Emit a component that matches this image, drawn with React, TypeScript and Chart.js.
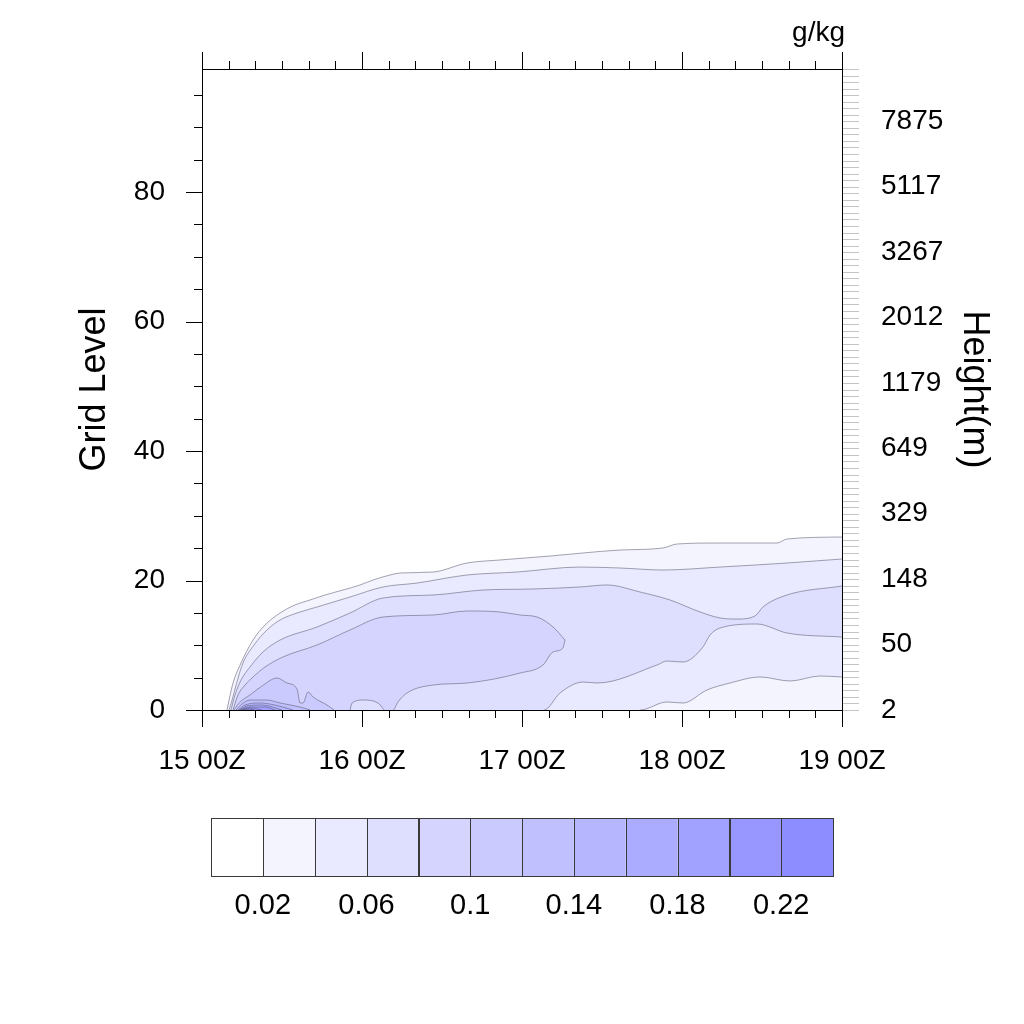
import React, { useEffect, useRef } from 'react';
import { Chart, registerables } from 'chart.js';

Chart.register(...registerables);

const FONT = '"Liberation Sans", Arial, Helvetica, sans-serif';

// Axis labels
const xTickLabels = ['15 00Z', '16 00Z', '17 00Z', '18 00Z', '19 00Z'];
const heightTickLabels = ['2', '50', '148', '329', '649', '1179', '2012', '3267', '5117', '7875'];
const unitsLabel = 'g/kg';
const leftTitle = 'Grid Level';
const rightTitle = 'Height(m)';

// Contour levels and fill colours (12 intervals)
const contourLevels = [0.02, 0.04, 0.06, 0.08, 0.1, 0.12, 0.14, 0.16, 0.18, 0.2, 0.22];
const fillColors = [
  '#FFFFFF', '#F4F4FF', '#E9E9FF', '#DEDEFF', '#D4D4FF', '#CACAFF',
  '#C0C0FF', '#B6B6FF', '#ABABFF', '#A1A1FF', '#9797FF', '#8D8DFF',
];

// Contour boundaries: [hours after 15 00Z, grid level]
const c002Top = [
  [0.156, 0], [0.169, 1.54], [0.194, 4.17], [0.238, 6.95], [0.319, 10.81], [0.394, 13.13],
  [0.488, 14.98], [0.581, 16.22], [0.675, 16.99], [0.769, 17.76], [0.881, 18.53], [0.988, 19.31],
  [1.069, 20.08], [1.175, 20.85], [1.238, 21.16], [1.444, 21.31], [1.656, 22.7], [1.863, 23.17],
  [2.175, 23.78], [2.381, 24.25], [2.613, 24.71], [2.881, 25.02], [2.969, 25.64], [3.238, 25.79],
  [3.594, 25.79], [3.656, 26.41], [4.0, 26.72],
];
const c004Top = [
  [0.169, 0], [0.188, 1.54], [0.213, 3.86], [0.256, 7.26], [0.325, 10.04], [0.406, 12.36],
  [0.488, 13.9], [0.594, 14.98], [0.719, 15.91], [0.925, 17.45], [1.131, 19.0], [1.344, 19.61],
  [1.656, 20.85], [1.969, 21.31], [2.363, 22.08], [2.613, 21.93], [2.881, 21.62], [3.238, 22.08],
  [3.656, 22.7], [4.0, 23.32],
];
const c004Bottom = [
  [0.169, 0], [2.738, 0], [2.906, 1.24], [3.006, 1.08], [3.156, 3.09], [3.3, 4.17],
  [3.488, 5.1], [3.675, 4.48], [3.863, 5.25], [4.0, 5.1],
];
const c006Top = [
  [0.181, 0], [0.206, 2.32], [0.244, 4.63], [0.3, 6.64], [0.381, 8.96], [0.488, 10.81],
  [0.719, 12.82], [0.925, 14.98], [1.131, 17.3], [1.444, 17.76], [1.756, 18.53], [2.069, 18.69],
  [2.363, 19.0], [2.531, 19.31], [2.738, 18.22], [2.925, 16.99], [3.113, 15.14], [3.238, 14.21],
  [3.344, 14.05], [3.456, 14.52], [3.506, 15.91], [3.656, 17.76], [4.0, 19.15],
];
const c006Bottom = [
  [0.181, 0], [2.138, 0], [2.238, 2.63], [2.381, 4.32], [2.469, 4.17], [2.844, 6.95],
  [2.906, 7.57], [3.006, 7.41], [3.131, 9.73], [3.175, 11.58], [3.238, 12.66], [3.469, 13.28],
  [3.656, 11.89], [4.0, 11.27],
];
const c008Top = [
  [0.194, 0], [0.225, 2.32], [0.269, 3.86], [0.319, 5.1], [0.394, 6.64], [0.506, 8.19],
  [0.719, 10.04], [0.925, 12.36], [1.131, 14.36], [1.444, 14.67], [1.656, 15.29], [1.863, 15.14],
  [1.988, 14.67], [2.094, 14.36], [2.194, 12.82], [2.269, 10.81],
];
const c008Bottom = [
  [0.194, 0], [1.194, 0], [1.225, 1.24], [1.281, 2.63], [1.444, 3.86], [1.656, 4.17],
  [1.988, 5.71], [2.131, 6.95], [2.194, 8.96], [2.256, 9.58], [2.269, 10.81],
];
const c006Dip = [[0.925, 0], [0.938, 1.08], [1.006, 1.54], [1.1, 1.08], [1.138, 0]];
const c010Top = [
  [0.2, 0], [0.238, 1.24], [0.3, 2.32], [0.375, 3.71], [0.469, 4.94], [0.531, 4.17],
  [0.594, 3.24], [0.613, 1.08], [0.631, 1.08], [0.663, 2.78], [0.694, 2.01], [0.781, 0.77], [0.825, 0],
];
const c012Top = [[0.213, 0], [0.25, 0.93], [0.3, 1.54], [0.406, 1.54], [0.488, 1.08], [0.613, 0.46], [0.675, 0]];
const c014Top = [[0.225, 0], [0.269, 0.77], [0.363, 1.08], [0.456, 0.77], [0.569, 0]];
const c016Top = [[0.231, 0], [0.281, 0.62], [0.375, 0.77], [0.5, 0]];
const c018Top = [[0.238, 0], [0.3, 0.46], [0.394, 0.46], [0.456, 0]];
const c020Top = [[0.244, 0], [0.3, 0.31], [0.375, 0]];
const c022Top = [[0.25, 0], [0.288, 0.15], [0.325, 0]];

const LINE = 'rgba(90,90,110,0.55)';

function contourDs(arr: number[][], fill: any, colorIdx: number | null) {
  return {
    data: arr.map(([x, y]) => ({ x, y })),
    borderColor: LINE,
    borderWidth: 1,
    backgroundColor: colorIdx === null ? 'transparent' : fillColors[colorIdx],
    fill,
    pointRadius: 0,
    cubicInterpolationMode: 'monotone',
    segment: {
      borderColor: (c: any) =>
        arr[c.p0DataIndex] && arr[c.p1DataIndex] && arr[c.p0DataIndex][1] === 0 && arr[c.p1DataIndex][1] === 0
          ? 'transparent'
          : LINE,
    },
  };
}

const decorPlugin = {
  id: 'decor',
  afterDraw(chart: any) {
    const { ctx, chartArea: a, scales } = chart;
    const sx = scales.x;
    const sy = scales.y;
    const sy2 = scales.y2;
    const line = (x1: number, y1: number, x2: number, y2: number) => {
      ctx.beginPath();
      ctx.moveTo(x1, y1);
      ctx.lineTo(x2, y2);
      ctx.stroke();
    };
    ctx.save();
    ctx.lineWidth = 1;
    // right-hand height ticks (every model level)
    ctx.strokeStyle = '#c4c4c4';
    for (let v = 0; v <= 98; v++) {
      const y = Math.round(sy2.getPixelForValue(v)) + 0.5;
      line(a.right, y, a.right + 17, y);
    }
    // time ticks, top and bottom
    ctx.strokeStyle = '#000';
    for (let i = 0; i <= 24; i++) {
      const x = Math.round(sx.getPixelForValue(i / 6)) + 0.5;
      const len = i % 6 === 0 ? 17 : 8;
      line(x, a.bottom, x, a.bottom + len);
      line(x, a.top, x, a.top - len);
    }
    // grid level ticks
    for (let v = 0; v <= 95; v += 5) {
      const y = Math.round(sy.getPixelForValue(v)) + 0.5;
      const len = v % 20 === 0 ? 16 : 8;
      line(a.left - len, y, a.left, y);
    }
    // frame
    ctx.strokeRect(Math.round(a.left) + 0.5, Math.round(a.top) + 0.5, Math.round(a.right - a.left), Math.round(a.bottom - a.top));

    // units
    ctx.fillStyle = '#000';
    ctx.font = `28px ${FONT}`;
    ctx.textAlign = 'right';
    ctx.textBaseline = 'alphabetic';
    ctx.fillText(unitsLabel, 845, 41);

    // colour bar
    const cbLeft = 211, cbRight = 833, cbTop = 818, cbBottom = 876;
    const w = (cbRight - cbLeft) / fillColors.length;
    fillColors.forEach((c, i) => {
      ctx.fillStyle = c;
      ctx.fillRect(cbLeft + i * w, cbTop, w, cbBottom - cbTop);
    });
    ctx.strokeStyle = '#3a3a3a';
    fillColors.forEach((_, i) => {
      ctx.strokeRect(Math.round(cbLeft + i * w) + 0.5, cbTop + 0.5, Math.round(w), cbBottom - cbTop);
    });
    ctx.fillStyle = '#000';
    ctx.font = `29px ${FONT}`;
    ctx.textAlign = 'center';
    ctx.textBaseline = 'middle';
    contourLevels.forEach((lv, i) => {
      if (i % 2 === 0) ctx.fillText(String(lv), cbLeft + (i + 1) * w, 906);
    });
    ctx.restore();
  },
};

export default function App() {
  const ref = useRef<HTMLCanvasElement>(null);
  useEffect(() => {
    const datasets: any[] = [
      contourDs(c022Top, 'origin', 11),
      contourDs(c020Top, 'origin', 10),
      contourDs(c018Top, 'origin', 9),
      contourDs(c016Top, 'origin', 8),
      contourDs(c014Top, 'origin', 7),
      contourDs(c012Top, 'origin', 6),
      contourDs(c010Top, 'origin', 5),
      contourDs(c006Dip, 'origin', 3),
      contourDs(c008Top, '+1', 4),
      contourDs(c008Bottom, false, null),
      contourDs(c006Top, '+1', 3),
      contourDs(c006Bottom, false, null),
      contourDs(c004Top, '+1', 2),
      contourDs(c004Bottom, false, null),
      contourDs(c002Top, 'origin', 1),
    ];
    const tickFont = { family: FONT, size: 28 };
    const titleFont = { family: FONT, size: 36 };
    const chart = new Chart(ref.current!, {
      type: 'line',
      data: { datasets },
      options: {
        animation: false,
        responsive: false,
        devicePixelRatio: 1,
        events: [],
        layout: { padding: 0 },
        plugins: {
          legend: { display: false },
          tooltip: { enabled: false },
          filler: { propagate: false, drawTime: 'beforeDatasetsDraw' },
        },
        scales: {
          x: {
            type: 'linear', position: 'bottom', min: 0, max: 4,
            grid: { display: false, drawTicks: false }, border: { display: false },
            ticks: {
              stepSize: 1, autoSkip: false, maxRotation: 0, padding: 34, font: tickFont, color: '#000',
              callback: (v: any) => xTickLabels[Math.round(Number(v))] ?? '',
            },
            afterFit: (s: any) => { s.height = 314; },
          },
          x2: {
            type: 'linear', position: 'top', min: 0, max: 4,
            grid: { display: false, drawTicks: false }, border: { display: false },
            ticks: { display: false },
            afterFit: (s: any) => { s.height = 69; },
          },
          y: {
            type: 'linear', position: 'left', min: 0, max: 99,
            grid: { display: false, drawTicks: false }, border: { display: false },
            ticks: { stepSize: 20, includeBounds: false, autoSkip: false, padding: 37, font: tickFont, color: '#000' },
            title: { display: true, text: leftTitle, font: titleFont, color: '#000', padding: { top: 73, bottom: 0 } },
            afterFit: (s: any) => { s.width = 202; },
          },
          y2: {
            type: 'linear', position: 'right', min: 0, max: 98,
            grid: { display: false, drawTicks: false }, border: { display: false },
            ticks: {
              stepSize: 10, includeBounds: false, autoSkip: false, padding: 39, font: tickFont, color: '#000',
              callback: (v: any) => heightTickLabels[Math.round(Number(v) / 10)] ?? '',
            },
            title: { display: true, text: rightTitle, font: titleFont, color: '#000', padding: { top: 28, bottom: 0 } },
            afterFit: (s: any) => { s.width = 182; },
          },
        },
      } as any,
      plugins: [decorPlugin],
    });
    return () => chart.destroy();
  }, []);
  return (
    <div style={{ position: 'absolute', left: 0, top: 0, width: 1024, height: 1024, background: '#fff' }}>
      <canvas ref={ref} width={1024} height={1024} style={{ display: 'block', width: 1024, height: 1024 }} />
    </div>
  );
}
